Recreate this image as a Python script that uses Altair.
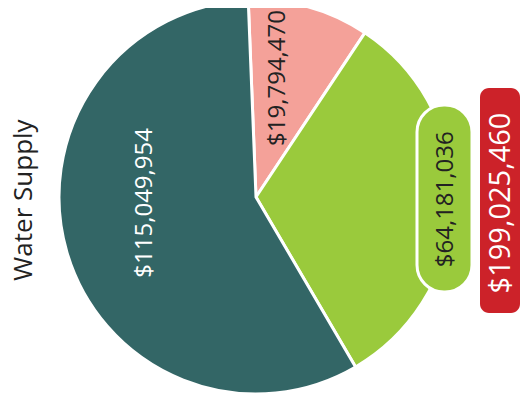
import math
import altair as alt
import pandas as pd

# ---- data ----
segments = ["Segment 1", "Segment 2", "Segment 3"]
amounts = [19794470, 64181036, 115049954]
colors = ["#F4A199", "#9ACA3C", "#336666"]
chart_title = "Water Supply"

total = sum(amounts)
df = pd.DataFrame({
    "segment": segments,
    "amount": amounts,
    "rank": list(range(len(segments))),
    "label": ["$" + format(v, ",") for v in amounts],
})
total_df = pd.DataFrame({"label": ["$" + format(total, ",")]})
title_df = pd.DataFrame({"label": [chart_title]})
box_df = pd.DataFrame({"k": [0]})

FONT = "Open Sans"
start = -0.0395
theta_scale = alt.Scale(domain=[0, total], range=[start, start + 2 * math.pi])

base = alt.Chart(df).encode(
    theta=alt.Theta("amount:Q", stack=True, scale=theta_scale),
    order=alt.Order("rank:Q"),
)

arcs = base.mark_arc(radius=197, stroke="white", strokeWidth=3).encode(
    color=alt.Color("segment:N", scale=alt.Scale(domain=segments, range=colors), legend=None)
)

pill = alt.Chart(box_df).mark_rect(
    color=colors[1], stroke="white", strokeWidth=3, cornerRadius=27
).encode(x=alt.value(409), x2=alt.value(464), y=alt.value(97), y2=alt.value(284))


def label_layer(seg, radius, theta_offset, color, size):
    return base.transform_calculate(
        shown=f"datum.segment === '{seg}' ? datum.label : ''"
    ).mark_text(
        radius=radius, thetaOffset=theta_offset, angle=270, fontSize=size,
        font=FONT, color=color, align="center", baseline="middle",
    ).encode(text="shown:N")


lab_pink = label_layer(segments[0], 121, -0.092, "#222222", 24)
lab_green = label_layer(segments[1], 190, -0.0157, "#222222", 24)
lab_teal = label_layer(segments[2], 111, 0.232, "white", 24)

red_box = alt.Chart(box_df).mark_rect(color="#CC2229", cornerRadius=9).encode(
    x=alt.value(472), x2=alt.value(512), y=alt.value(80), y2=alt.value(305)
)
total_text = alt.Chart(total_df).mark_text(
    angle=270, fontSize=29, font=FONT, color="white", align="center", baseline="middle"
).encode(text="label:N", x=alt.value(493), y=alt.value(195))

title_text = alt.Chart(title_df).mark_text(
    angle=270, fontSize=26, font=FONT, color="#222222", align="center", baseline="middle"
).encode(text="label:N", x=alt.value(16), y=alt.value(192))

chart = alt.layer(
    arcs, pill, lab_pink, lab_green, lab_teal, red_box, total_text, title_text
).properties(
    width=496, height=378,
    autosize=alt.AutoSizeParams(type="none"),
    padding={"left": 0, "top": 0, "right": 16, "bottom": 8},
).configure_view(stroke=None)

chart.save("out.html", embed_options={"renderer": "svg", "actions": False})
